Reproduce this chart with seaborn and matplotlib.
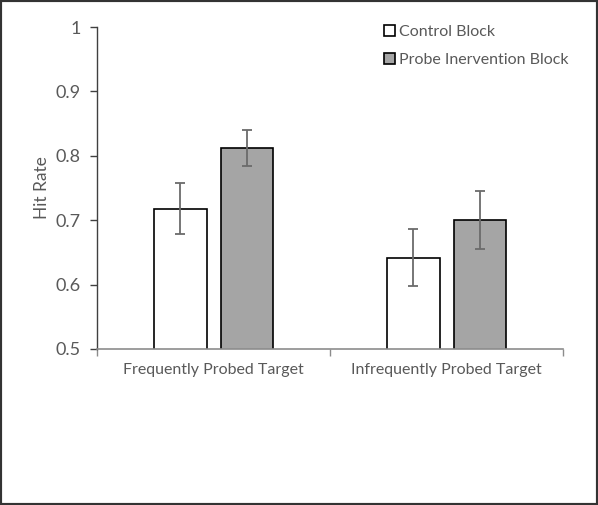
import matplotlib
matplotlib.use('Agg')
import matplotlib.pyplot as plt
import pandas as pd
import seaborn as sns

# values
targets = ['Frequently Probed Target', 'Infrequently Probed Target']
blocks = ['Control Block', 'Probe Inervention Block']
control = [0.718, 0.642]
probe = [0.812, 0.700]
control_err = [0.040, 0.044]
probe_err = [0.0285, 0.045]

df = pd.DataFrame({
    'target': targets * 2,
    'block': [blocks[0]] * 2 + [blocks[1]] * 2,
    'rate': control + probe,
})
errs = {blocks[0]: control_err, blocks[1]: probe_err}

sns.set_style('white')
plt.rcParams['font.family'] = ['Lato', 'DejaVu Sans']
txt = '#595959'

fig = plt.figure(figsize=(5.98, 5.05), dpi=100)
ax = fig.add_axes([0.1627, 0.309, 0.942 - 0.1627, 0.9465 - 0.309])

sns.barplot(data=df, x='target', y='rate', hue='block', order=targets,
            hue_order=blocks, palette=['white', '#A5A5A5'], width=0.572,
            gap=0.21, edgecolor='black', linewidth=1.2, errorbar=None, ax=ax)

for cont, lvl in zip(ax.containers, blocks):
    for bar, e in zip(cont.patches, errs[lvl]):
        xc = bar.get_x() + bar.get_width() / 2
        ax.errorbar(xc, bar.get_height(), yerr=e, color='#6b6b6b',
                    elinewidth=1.3, capsize=3.8, capthick=1.3, fmt='none')

ax.set_ylim(0.5, 1.0)
ax.set_xlim(-0.5, 1.5)
ax.set_yticks([0.5, 0.6, 0.7, 0.8, 0.9, 1.0])
ax.set_yticklabels(['0.5', '0.6', '0.7', '0.8', '0.9', '1'])
ax.set_xticks([-0.5, 0.5, 1.5], minor=True)
ax.tick_params(axis='x', which='major', length=0, pad=10, labelsize=11.5,
               labelcolor=txt)
ax.tick_params(axis='x', which='minor', length=5, width=1, color='#8c8c8c',
               direction='out', bottom=True)
ax.tick_params(axis='y', length=5, width=1, color='#404040', direction='out',
               left=True, pad=7, labelsize=13, labelcolor=txt)

for s in ['top', 'right']:
    ax.spines[s].set_visible(False)
ax.spines['left'].set_color('#404040')
ax.spines['left'].set_linewidth(1)
ax.spines['bottom'].set_color('#8c8c8c')
ax.spines['bottom'].set_linewidth(1.2)

ax.set_xlabel('')
ax.set_ylabel('Hit Rate', fontsize=12.5, color=txt, labelpad=4)

leg = ax.legend(loc='upper left', bbox_to_anchor=(0.585, 1.05), frameon=False,
                fontsize=11.5, handlelength=0.65, handleheight=0.65,
                handletextpad=0.3, labelspacing=0.85)
for t in leg.get_texts():
    t.set_color(txt)

fig.patches.append(plt.Rectangle((0, 0), 1, 1, transform=fig.transFigure,
                                 fill=False, edgecolor='#333333', linewidth=3))

fig.savefig('out.png', dpi=100)
